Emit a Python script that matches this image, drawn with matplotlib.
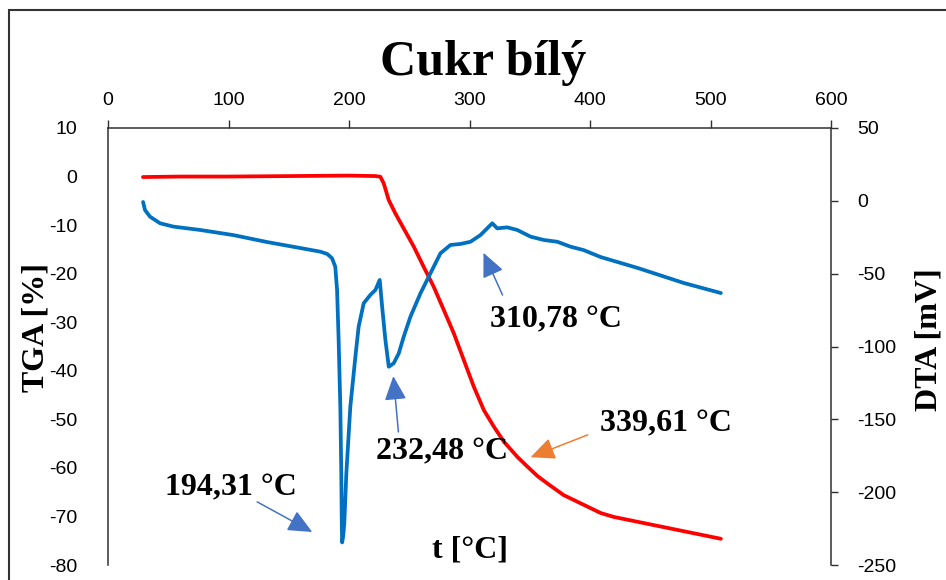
import matplotlib
matplotlib.use('Agg')
import matplotlib.pyplot as plt
from matplotlib.patches import Rectangle

plt.rcParams['font.family'] = ['Liberation Sans', 'DejaVu Sans']
plt.rcParams['axes.unicode_minus'] = False

# TGA curve (temperature in degC, mass change in %)
tga_t = [29, 60, 100, 150, 200, 222, 226.0, 228.8, 232.9, 238.5, 245.4, 253.7,
         262.0, 270.3, 278.7, 287.0, 295.3, 303.6, 311.9, 320.2, 328.5, 339.6,
         347.9, 356.5, 364.6, 378.1, 408.9, 419.7, 461.2, 508.6]
tga_v = [-0.1, 0.0, 0.0, 0.1, 0.2, 0.1, -0.03, -1.4, -4.8, -7.6, -10.7, -14.4,
         -18.6, -22.7, -27.5, -32.3, -37.8, -43.3, -48.1, -51.5, -54.6, -57.7,
         -59.7, -61.7, -63.2, -65.6, -69.3, -70.1, -72.2, -74.6]

# DTA curve (temperature in degC, signal in mV)
dta_t = [29.1, 30.7, 34.9, 43.2, 54.3, 76.5, 103.9, 132.1, 159.6, 176.2,
         182.0, 185.9, 188.6, 190.1, 191.4, 192.8, 193.6, 194.0, 194.3, 195.2,
         196.1, 197.8, 201.1, 205.3, 208.0, 212.2, 217.7, 221.9, 225.5, 227.5,
         230.2, 233.0, 237.1, 241.3, 245.4, 251.0, 259.3, 267.6, 275.9, 284.2,
         292.5, 300.8, 309.1, 316.0, 318.9, 323.0, 331.3, 339.6, 350.7, 361.8,
         372.9, 383.9, 394.7, 408.9, 439.6, 477.8, 508.6]
dta_v = [-0.8, -6.3, -10.9, -15.4, -17.7, -20.0, -23.5, -28.3, -32.4, -34.9,
         -36.5, -39.4, -45.2, -61.2, -95.5, -141.3, -187.0, -221.4, -234.5, -230.0,
         -221.4, -187.0, -141.3, -107.0, -86.4, -70.3, -64.6, -61.2, -54.3, -72.7,
         -95.5, -113.9, -111.5, -104.7, -93.3, -79.5, -63.5, -49.7, -36.0, -30.3,
         -29.6, -28.1, -23.5, -17.8, -15.4, -18.9, -18.2, -20.0, -24.6, -26.9,
         -28.1, -31.5, -33.8, -38.6, -46.1, -56.4, -63.3]

# peak annotations: label, text position, arrow tail, arrow tip (t, TGA coords)
peak_labels = ['194,31 °C', '232,48 °C', '310,78 °C', '339,61 °C']
peak_text_xy = [(102, -64.1), (277, -56.7), (371.5, -29.5), (463, -51.0)]
peak_tail_xy = [(123.8, -67.0), (241, -52.6), (327.4, -24.4), (398.1, -53.2)]
peak_tip_xy = [(169.5, -73.2), (236.8, -41.1), (311.6, -15.7), (350.7, -57.8)]
peak_colors = ['#4472C4', '#4472C4', '#4472C4', '#ED7D31']

x_ticks = [0, 100, 200, 300, 400, 500, 600]
tga_ticks = [10, 0, -10, -20, -30, -40, -50, -60, -70, -80]
dta_ticks = [50, 0, -50, -100, -150, -200, -250]

W, H = 946, 580
fig = plt.figure(figsize=(W / 100, H / 100), dpi=100)
ax = fig.add_axes([108 / W, 1 - 565 / H, 723 / W, 437 / H])
ax2 = ax.twinx()

spine_col = '#303030'
serif = ['Liberation Serif', 'DejaVu Serif']

ax.plot(tga_t, tga_v, color='#FF0000', lw=2.7, solid_capstyle='round',
        solid_joinstyle='round', zorder=3)
ax2.plot(dta_t, dta_v, color='#0070C0', lw=2.7, solid_capstyle='round',
         solid_joinstyle='round', zorder=3)

ax.set_xlim(0, 600)
ax.set_ylim(-80, 10)
ax2.set_ylim(-250, 50)
ax.set_xticks(x_ticks)
ax.set_yticks(tga_ticks)
ax2.set_yticks(dta_ticks)

ax.xaxis.tick_top()
ax.tick_params(axis='x', direction='out', length=6, width=1, color=spine_col,
               labelsize=14, pad=8)
ax.tick_params(axis='y', length=0, labelsize=14, pad=22)
ax2.tick_params(axis='y', direction='out', length=5, width=1, color=spine_col,
                labelsize=14, pad=14)

for a in (ax, ax2):
    a.spines['bottom'].set_visible(False)
    for s in ('left', 'top', 'right'):
        a.spines[s].set_color(spine_col)
        a.spines[s].set_linewidth(1.1)
ax.spines['right'].set_visible(False)
ax2.spines['left'].set_visible(False)
ax2.spines['top'].set_visible(False)

for lab, txy, tail, tip, c in zip(peak_labels, peak_text_xy, peak_tail_xy,
                                  peak_tip_xy, peak_colors):
    ax.annotate('', xy=tip, xytext=tail,
                arrowprops=dict(arrowstyle='-|>,head_length=0.55,head_width=0.25',
                                color=c, lw=1.1, shrinkA=0, shrinkB=0,
                                mutation_scale=27), zorder=4)
    ax.text(txy[0], txy[1], lab, ha='center', va='center', fontsize=23,
            fontweight='bold', family=serif, zorder=5)

ax.text(0.5, 0.034, 't [°C]', transform=ax.transAxes, ha='center', va='center',
        fontsize=23, fontweight='bold', family=serif)

fig.text(483 / W, 1 - 75 / H, 'Cukr bílý', ha='center', va='baseline',
         fontsize=36, fontweight='bold', family=serif)
fig.text(36 / W, 1 - 328 / H, 'TGA [%]', rotation=90, ha='center', va='center',
         fontsize=23, fontweight='bold', family=serif)
fig.text(929 / W, 1 - 340 / H, 'DTA [mV]', rotation=90, ha='center', va='center',
         fontsize=23, fontweight='bold', family=serif)

# chart frame (cropped on right and bottom in the source)
fig.add_artist(Rectangle((9 / W, -0.1), 1.2, 1.1 - 10 / H,
                         transform=fig.transFigure, fill=False,
                         lw=1.5, ec='#333333'))

fig.savefig('out.png', dpi=100, facecolor='white')
